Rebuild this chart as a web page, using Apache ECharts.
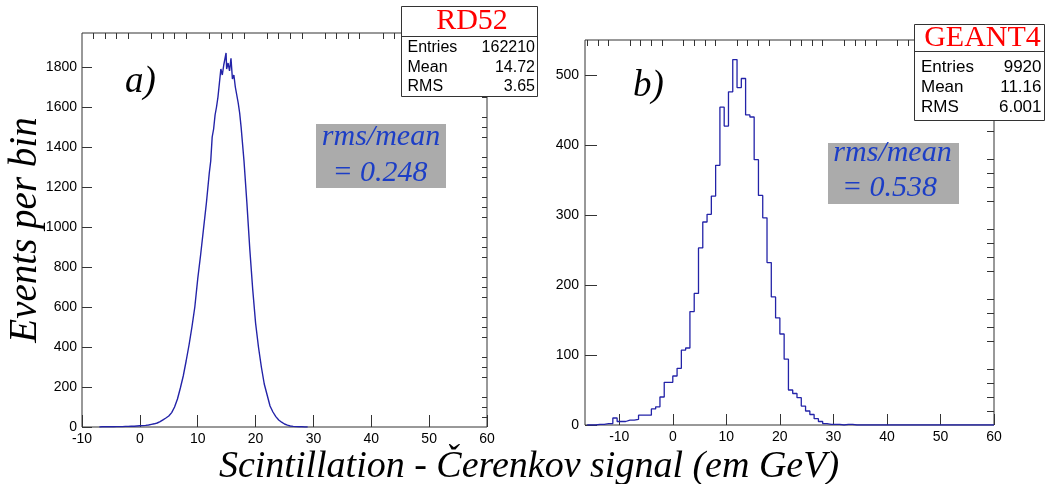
<!DOCTYPE html>
<html><head><meta charset="utf-8">
<script src="https://cdn.jsdelivr.net/npm/echarts@6/dist/echarts.min.js"></script>
<style>html,body{margin:0;padding:0;background:#fff}#c{width:1045px;height:484px}</style>
</head><body><div id="c"></div>
<script>
// ---- Panel a) RD52 (fine-binned distribution, read off the picture) ----
const leftX = [-7,-6.5,-6,-5.5,-5,-4.5,-4,-3.5,-3,-2.5,-2,-1.5,-1,-0.5,0,0.5,1,1.5,2,2.5,3,3.5,4,4.5,5,5.5,6,6.5,7,7.5,8,8.5,9,9.5,10,10.5,11,11.5,12,
  12.25,12.5,12.75,13,13.25,13.5,13.75,14,14.25,14.5,14.75,14.9,15,15.25,15.5,15.75,16,16.25,16.5,16.75,17,17.25,17.5,
  18,18.5,19,19.5,20,20.5,21,21.5,22,22.5,23,23.5,24,24.5,25,25.5,26,26.5,27,27.5,28,28.5,29];
const leftY = [0,1,1,1,1,1,2,2,2,3,3,4,4,5,6,7,8,10,13,16,20,27,36,45,55,72,100,140,195,255,330,410,500,600,740,860,990,1120,1270,
  1330,1450,1490,1560,1600,1650,1720,1790,1760,1810,1800,1870,1790,1820,1780,1843,1740,1760,1700,1690,1620,1570,1500,
  1330,1120,890,690,520,400,300,215,160,105,75,52,35,24,15,9,5,3,2,1,1,0,0];

// ---- Panel b) GEANT4 (bins of 0.8 starting at -16) ----
const rightBinStart = -16;
const rightBinWidth = 0.8;
const rightCounts = [0,0,1,1,2,2,10,5,5,7,7,8,14,14,14,23,26,40,61,61,
  70,81,107,110,162,188,253,290,301,327,371,454,427,476,522,482,495,443,440,379,
  328,296,232,183,153,130,94,50,45,39,27,20,15,9,5,2,1,1,1,0,1,1,
  0,0,0,0,0,0,0,0,0,0,0,0,0,0,0,0,0,0,0,0,0,0,0,0,0,0,0,0,0,0,0,0,0];

// ---- tick labels ----
const xTicks = [-10,0,10,20,30,40,50,60];
const leftYTicks = [0,200,400,600,800,1000,1200,1400,1600,1800];
const rightYTicks = [0,100,200,300,400,500];

function minorList(a, b, step, majors) {
  const out = [];
  for (let v = a; v <= b + 1e-9; v += step) {
    const r = Math.round(v * 100) / 100;
    if (!majors.includes(r)) out.push(r);
  }
  return out;
}
const leftXMinor = minorList(-10, 60, 2, xTicks);
const rightXMinor = minorList(-16, 60, 2, xTicks);
const leftYMinor = minorList(0, 1950, 50, leftYTicks);
const rightYMinor = minorList(0, 540, 20, rightYTicks);

const leftData = leftX.map((x, i) => [x, leftY[i]]);
const rightData = rightCounts.map((c, i) => [rightBinStart + i * rightBinWidth, c]);
rightData.push([rightBinStart + rightCounts.length * rightBinWidth, rightCounts[rightCounts.length - 1]]);

const AX = '#333';
const LBL = {fontFamily: 'Liberation Sans', fontSize: 14, color: '#000'};
const lineCol = '#2323a8';
const blue = '#1c3ec6';

function majorAxis(grid, min, max, ticks, len, margin) {
  return {gridIndex: grid, type: 'value', min: min, max: max,
    axisLine: {show: false, onZero: false},
    axisTick: {show: true, inside: true, length: len, customValues: ticks, lineStyle: {color: AX, width: 1}},
    axisLabel: Object.assign({show: true, customValues: ticks, margin: margin, formatter: v => String(v)}, LBL),
    splitLine: {show: false}};
}
function minorAxis(grid, min, max, ticks, len) {
  return {gridIndex: grid, type: 'value', min: min, max: max,
    axisLine: {show: false, onZero: false},
    axisTick: {show: true, inside: true, length: len, customValues: ticks, lineStyle: {color: AX, width: 1}},
    axisLabel: {show: false},
    splitLine: {show: false}};
}

const serifI = 'italic 37px "Liberation Serif"';
function txt(x, y, text, font, fill, align, extra) {
  return Object.assign({type: 'text', x: x, y: y, z: 100,
    style: {text: text, font: font, fill: fill, textAlign: align, textVerticalAlign: 'middle'}}, extra || {});
}
function statsBox(x, y, w, h, sep, title, titleX, titleY, rows, rowYs, lx, rx, fs) {
  const els = [
    {type: 'rect', z: 99, shape: {x: x + 0.5, y: y + 0.5, width: w, height: h}, style: {fill: '#fff', stroke: AX, lineWidth: 1}},
    {type: 'line', z: 100, shape: {x1: x, y1: sep + 0.5, x2: x + w, y2: sep + 0.5}, style: {stroke: AX, lineWidth: 1}},
    txt(titleX, titleY, title, '30px "Liberation Serif"', '#ff0000', 'center')
  ];
  rows.forEach((r, i) => {
    els.push(txt(lx, rowYs[i], r[0], fs + 'px "Liberation Sans"', '#000', 'left'));
    els.push(txt(rx, rowYs[i], r[1], fs + 'px "Liberation Sans"', '#000', 'right'));
  });
  return els;
}

const chart = echarts.init(document.getElementById('c'), null, {renderer: 'canvas'});
chart.setOption({
  backgroundColor: '#fff',
  animation: false,
  grid: [
    {left: 82, top: 33, width: 405, height: 394, show: true, borderColor: AX, borderWidth: 1, backgroundColor: 'transparent'},
    {left: 585, top: 40, width: 409, height: 385, show: true, borderColor: AX, borderWidth: 1, backgroundColor: 'transparent'}
  ],
  xAxis: [
    majorAxis(0, -10, 60, xTicks, 12, 5),
    minorAxis(0, -10, 60, leftXMinor, 6),
    majorAxis(1, -16.4, 60, xTicks, 11, 5),
    minorAxis(1, -16.4, 60, rightXMinor, 6)
  ],
  yAxis: [
    majorAxis(0, 0, 1970, leftYTicks, 10, 5),
    minorAxis(0, 0, 1970, leftYMinor, 5),
    majorAxis(1, 0, 550, rightYTicks, 12, 6),
    minorAxis(1, 0, 550, rightYMinor, 7)
  ],
  series: [
    {type: 'line', xAxisIndex: 0, yAxisIndex: 0, data: leftData, showSymbol: false, symbol: 'none',
      lineStyle: {color: lineCol, width: 1.4}, z: 5},
    {type: 'line', xAxisIndex: 2, yAxisIndex: 2, data: rightData, step: 'end', showSymbol: false, symbol: 'none',
      lineStyle: {color: lineCol, width: 1.3}, z: 5}
  ],
  graphic: [].concat(
    [
      txt(25.5, 230, 'Events per bin', 'italic 39px "Liberation Serif"', '#000', 'center', {rotation: Math.PI / 2}),
      txt(529, 467, 'Scintillation - Čerenkov signal (em GeV)', 'italic 38px "Liberation Serif"', '#000', 'center'),
      txt(125, 82.5, 'a)', serifI, '#000', 'left'),
      txt(633, 86.5, 'b)', serifI, '#000', 'left'),
      {type: 'rect', z: 98, shape: {x: 316, y: 124, width: 130, height: 64}, style: {fill: '#ababab'}},
      txt(381, 137, 'rms/mean', 'italic 30px "Liberation Serif"', blue, 'center'),
      txt(380, 173, '= 0.248', 'italic 30px "Liberation Serif"', blue, 'center'),
      {type: 'rect', z: 98, shape: {x: 828, y: 143, width: 131, height: 61}, style: {fill: '#ababab'}},
      txt(892.5, 153, 'rms/mean', 'italic 30px "Liberation Serif"', blue, 'center'),
      txt(889.5, 188, '= 0.538', 'italic 30px "Liberation Serif"', blue, 'center')
    ],
    statsBox(401, 6, 136, 90, 36, 'RD52', 472, 21.6,
      [['Entries', '162210'], ['Mean', '14.72'], ['RMS', '3.65']], [47.8, 67.2, 86.2], 407.5, 535, 16),
    statsBox(914, 24, 130, 96, 51, 'GEANT4', 982.5, 38.2,
      [['Entries', '9920'], ['Mean', '11.16'], ['RMS', '6.001']], [67.4, 87.4, 107.4], 921, 1041.5, 17)
  )
});
</script>
</body></html>
